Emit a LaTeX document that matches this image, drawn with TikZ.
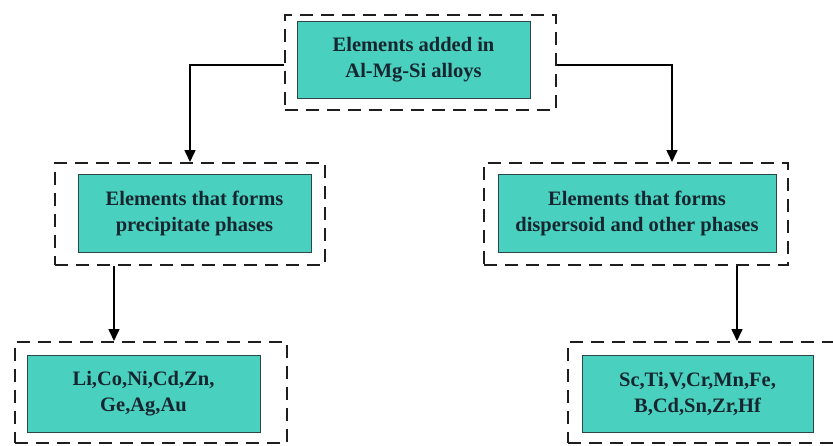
\documentclass[tikz,border=0pt]{standalone}
\usepackage{fontspec}
\setmainfont{Liberation Serif}
\usetikzlibrary{arrows.meta}
\definecolor{boxfill}{RGB}{74,208,190}
\definecolor{boxline}{RGB}{45,70,72}
\definecolor{txt}{RGB}{22,38,48}
\definecolor{dashc}{RGB}{30,30,30}
\tikzset{
  inbox/.style={draw=boxline, line width=1pt, fill=boxfill, text=txt,
    font=\fontsize{20.5}{26}\selectfont\bfseries, align=center,
    inner sep=0pt, minimum height=77pt},
  outbox/.style={draw=dashc, line width=2pt, dash pattern=on 13pt off 8pt,
    inner sep=0pt, minimum height=100pt},
  conn/.style={draw=black, line width=1.6pt, -{Triangle[length=12pt,width=11pt]}}
}
\begin{document}
\begin{tikzpicture}[x=1pt,y=-1pt]
\clip (0,0) rectangle (833,445);
\fill[white] (0,0) rectangle (833,445);
% outer dashed boxes
\node[outbox, minimum width=271pt, minimum height=95pt] (tout) at (420.5,62.5) {};
\node[outbox, minimum width=270pt, minimum height=102pt] (mlout) at (190,214) {};
\node[outbox, minimum width=304pt, minimum height=102pt] (mrout) at (636,214) {};
\node[outbox, minimum width=272pt, minimum height=101pt] (blout) at (151,392.5) {};
\node[outbox, minimum width=272pt, minimum height=101pt] (brout) at (704,392.5) {};
% inner boxes
\node[inbox, minimum width=233pt] (tin) at (413.5,59.5) {Elements added in\\Al-Mg-Si alloys};
\node[inbox, minimum width=233pt, minimum height=78pt] (mlin) at (194.5,213) {Elements that forms\\precipitate phases};
\node[inbox, minimum width=278pt, minimum height=78pt] (mrin) at (637,213) {Elements that forms\\dispersoid and other phases};
\node[inbox, minimum width=233pt] (blin) at (143.5,393.5) {Li,Co,Ni,Cd,Zn,\\Ge,Ag,Au};
\node[inbox, minimum width=231pt] (brin) at (697.5,393.5) {Sc,Ti,V,Cr,Mn,Fe,\\B,Cd,Sn,Zr,Hf};
% connectors
\draw[conn] ([yshift=-2.5pt]tout.west) -| (mlout.north);
\draw[conn] ([yshift=-2.5pt]tout.east) -| ([xshift=36pt]mrout.north);
\draw[conn] ([xshift=-76pt]mlout.south) -- ([xshift=-76pt]mlout.south |- blout.north);
\draw[conn] ([xshift=101pt]mrout.south) -- ([xshift=101pt]mrout.south |- brout.north);
\end{tikzpicture}
\end{document}
